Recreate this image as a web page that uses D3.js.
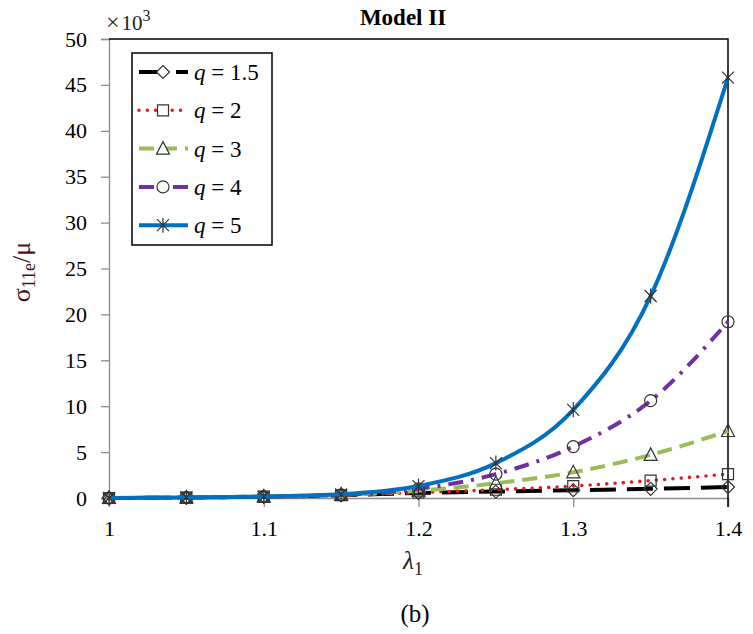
<!DOCTYPE html>
<html><head><meta charset="utf-8">
<script src="https://cdn.jsdelivr.net/npm/d3@7/dist/d3.min.js"></script>
<style>body{margin:0;background:#fff}svg{display:block}svg text{font-family:"Liberation Serif","Times New Roman",serif}</style>
</head><body>
<svg id="c" width="753" height="634"></svg>
<script>
// ---- data ----
const lambda = [1, 1.05, 1.1, 1.15, 1.2, 1.25, 1.3, 1.35, 1.4];
const q15 = [0, 0.05, 0.15, 0.3, 0.55, 0.7, 0.85, 1.0, 1.2];
const q2  = [0, 0.05, 0.15, 0.3, 0.6, 0.9, 1.3, 1.9, 2.6];
const q3  = [0, 0.05, 0.15, 0.35, 0.8, 1.6, 2.8, 4.7, 7.3];
const q4  = [0, 0.05, 0.15, 0.35, 1.0, 2.6, 5.6, 10.6, 19.2];
const q5  = [0, 0.05, 0.15, 0.4, 1.3, 3.8, 9.6, 22.0, 45.8];
const seriesNames = ["1.5", "2", "3", "4", "5"];
const xTicks = [1, 1.1, 1.2, 1.3, 1.4];
const yTicks = [0, 5, 10, 15, 20, 25, 30, 35, 40, 45, 50];

const styles = [
  {color:"#000000", width:4, dash:"26 11", cap:"butt", marker:"diamond"},
  {color:"#e01b1b", width:3.6, dash:"0 8.3", cap:"round", marker:"square"},
  {color:"#9bbb59", width:4, dash:"15 8", cap:"butt", marker:"triangle"},
  {color:"#7030a0", width:4, dash:"15 8 3 8", cap:"butt", marker:"circle"},
  {color:"#0070c0", width:4, dash:null, cap:"butt", marker:"asterisk"}
];
const values = [q15, q2, q3, q4, q5];

const svg = d3.select("#c");
const serif = '"Liberation Serif","Times New Roman",serif';
const x = d3.scaleLinear().domain([1, 1.4]).range([109, 728]);
const y = d3.scaleLinear().domain([0, 50]).range([498, 39]);

// axes
const yAxis = svg.append("g").attr("transform", "translate(109,0)")
  .call(d3.axisLeft(y).tickValues(yTicks).tickSize(8).tickPadding(14).tickFormat(d3.format("d")));
yAxis.attr("font-family", null).attr("font-size", null);
yAxis.select(".domain").attr("stroke", "#8c8c8c").attr("stroke-width", 1.3);
yAxis.selectAll(".tick line").attr("stroke", "#8c8c8c").attr("stroke-width", 1.3);
yAxis.selectAll("text").style("font-family", serif).style("font-size", "22px").attr("fill", "#000");

const xAxis = svg.append("g").attr("transform", "translate(0,498)")
  .call(d3.axisBottom(x).tickValues(xTicks).tickSize(9).tickPadding(13).tickFormat(d => String(+d.toFixed(2))));
xAxis.attr("font-family", null).attr("font-size", null);
xAxis.select(".domain").attr("stroke", "#8c8c8c").attr("stroke-width", 1.3);
xAxis.selectAll(".tick line").attr("stroke", "#8c8c8c").attr("stroke-width", 1.3);
xAxis.selectAll("text").style("font-family", serif).style("font-size", "22px").attr("fill", "#000");

// top & right border
svg.append("path").attr("d", `M${x(1)},${y(50)}H${x(1.4)}V${y(0)+9}`)
  .attr("fill", "none").attr("stroke", "#000").attr("stroke-width", 1.5);

// markers
function markerPath(type) {
  switch (type) {
    case "diamond": return "M0,-6.5L6.5,0L0,6.5L-6.5,0Z";
    case "square": return "M-5.5,-5.5H5.5V5.5H-5.5Z";
    case "triangle": return "M0,-7L6.5,5.5H-6.5Z";
    case "circle": return "M6,0A6,6 0 1,1 -6,0A6,6 0 1,1 6,0Z";
    case "asterisk": return "M0,-7.5V7.5M-6,-6L6,6M6,-6L-6,6";
  }
}

const line = d3.line().x(d => x(d[0])).y(d => y(d[1])).curve(d3.curveMonotoneX);

values.forEach((vals, i) => {
  const st = styles[i];
  const pts = lambda.map((l, j) => [l, vals[j]]);
  const g = svg.append("g");
  g.append("path").attr("d", line(pts)).attr("fill", "none")
    .attr("stroke", st.color).attr("stroke-width", st.width)
    .attr("stroke-dasharray", st.dash).attr("stroke-linecap", st.cap);
  g.selectAll("path.m").data(pts).join("path").attr("class", "m")
    .attr("d", markerPath(st.marker))
    .attr("transform", d => `translate(${x(d[0])},${y(d[1])})`)
    .attr("fill", "none").attr("stroke", "#333").attr("stroke-width", 1.2);
});

// legend
const lg = svg.append("g");
lg.append("rect").attr("x", 132).attr("y", 53).attr("width", 140).attr("height", 192)
  .attr("fill", "#fff").attr("stroke", "#000").attr("stroke-width", 1.5);
seriesNames.forEach((name, i) => {
  const st = styles[i];
  const cy = 72 + i * 38.3;
  lg.append("line").attr("x1", 139).attr("x2", 188).attr("y1", cy).attr("y2", cy)
    .attr("stroke", st.color).attr("stroke-width", st.width)
    .attr("stroke-dasharray", st.dash).attr("stroke-linecap", st.cap);
  lg.append("path").attr("d", markerPath(st.marker)).attr("transform", `translate(163,${cy})`)
    .attr("fill", st.marker === "asterisk" ? "none" : "#fff").attr("stroke", "#333").attr("stroke-width", 1.2);
  const t = lg.append("text").attr("x", 194).attr("y", cy + 8)
    .style("font-family", serif).style("font-size", "23px").attr("fill", "#000");
  t.append("tspan").attr("font-style", "italic").text("q");
  t.append("tspan").text(" = " + name);
});

// title
svg.append("text").attr("x", 403).attr("y", 25).attr("text-anchor", "middle")
  .style("font-family", serif).style("font-size", "23px").attr("font-weight", "bold").text("Model II");

// multiplier
const mt = svg.append("text").attr("x", 106).attr("y", 30)
  .style("font-family", serif).style("font-size", "21px").attr("fill", "#222");
mt.append("tspan").style("font-size", "24px").text("×");
mt.append("tspan").attr("dx", 2).text("10");
mt.append("tspan").style("font-size", "16px").attr("dy", -9).text("3");

// y label
const yl = svg.append("text").attr("transform", "translate(30,272) rotate(-90)")
  .attr("text-anchor", "middle").style("font-family", serif).style("font-size", "26px").attr("fill", "#4a1020");
yl.append("tspan").text("σ");
yl.append("tspan").style("font-size", "18px").attr("dy", 5).text("11e");
yl.append("tspan").attr("dy", -5).text("/μ");

// x label
const xl = svg.append("text").attr("x", 413).attr("y", 569).attr("text-anchor", "middle")
  .style("font-family", serif).style("font-size", "25px").attr("fill", "#222");
xl.append("tspan").attr("font-style", "italic").text("λ");
xl.append("tspan").style("font-size", "18px").attr("dy", 6).text("1");

svg.append("text").attr("x", 415).attr("y", 622).attr("text-anchor", "middle")
  .style("font-family", serif).style("font-size", "25px").attr("fill", "#000").text("(b)");
</script>
</body></html>
